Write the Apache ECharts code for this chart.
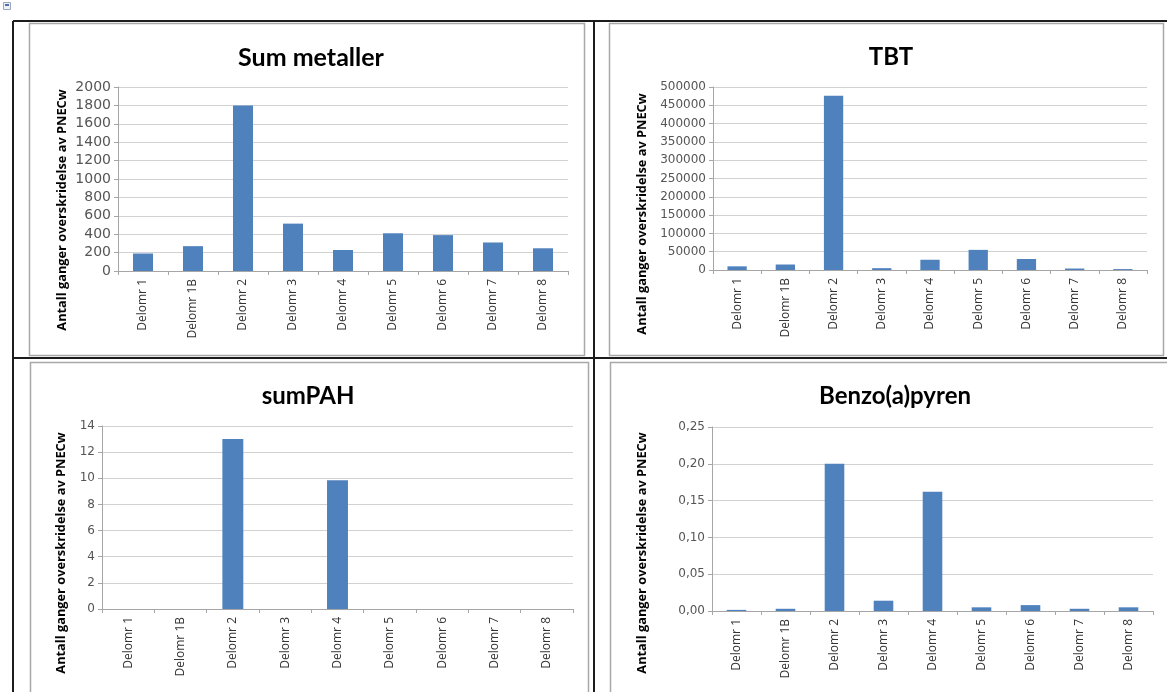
<!DOCTYPE html>
<html>
<head>
<meta charset="utf-8">
<title>Overskridelse av PNECw per delområde</title>
<script src="https://cdn.jsdelivr.net/npm/echarts@6/dist/echarts.min.js"></script>
<style>
  html, body { margin: 0; padding: 0; background: #ffffff; }
  #chart { width: 1167px; height: 692px; }
</style>
</head>
<body>
<div id="chart"></div>
<script>
// Delområder (x-axis categories shared by all four panels)
const categories = ['Delomr 1', 'Delomr 1B', 'Delomr 2', 'Delomr 3', 'Delomr 4',
                    'Delomr 5', 'Delomr 6', 'Delomr 7', 'Delomr 8'];

// Antall ganger overskridelse av PNECw, per stoffgruppe
const sumMetaller = [190, 270, 1800, 515, 228, 410, 390, 310, 247];
const tbt = [10000, 15000, 476000, 5000, 28000, 55000, 30000, 4000, 2500];
const sumPAH = [0, 0, 13, 0, 9.85, 0, 0, 0, 0];
const benzoAPyren = [0.0015, 0.003, 0.200, 0.014, 0.162, 0.005, 0.008, 0.003, 0.005];

// Panel titles and y-axis scales
const panelTitles = ['Sum metaller', 'TBT', 'sumPAH', 'Benzo(a)pyren'];
const yMax = [2000, 500000, 14, 0.25];
const yStep = [200, 50000, 2, 0.05];
const yAxisTitle = 'Antall ganger overskridelse av PNECw';

const panelData = [sumMetaller, tbt, sumPAH, benzoAPyren];

// Plot rectangles for the four panels
const grids = [
  { left: 118, top: 87, width: 450, height: 184 },
  { left: 713, top: 87, width: 434, height: 183 },
  { left: 102, top: 426, width: 471, height: 183 },
  { left: 712, top: 427, width: 441, height: 184 }
];
const titlePos = [
  { x: 306, y: 40 }, { x: 886, y: 40 }, { x: 303, y: 379 }, { x: 890, y: 379 }
];
const titleSize = [25, 24, 24, 24];
const yNamePos = [
  { x: 62, y: 210 }, { x: 642, y: 214 }, { x: 61, y: 553 }, { x: 642, y: 553 }
];
const yLabelFont = [14, 12, 12, 12];

const barColor = '#4f81bd';
const axisGray = '#a6a6a6';
const gridGray = '#d2d2d2';

const fmt = [
  v => String(v),
  v => String(v),
  v => String(v),
  v => v.toFixed(2).replace('.', ',')
];

const option = {
  backgroundColor: '#ffffff',
  animation: false,
  title: panelTitles.map((t, i) => ({
    text: t,
    left: titlePos[i].x,
    top: titlePos[i].y,
    textAlign: 'center',
    textStyle: { fontFamily: 'Lato', fontWeight: 'bold', fontSize: titleSize[i], color: '#000000' }
  })),
  grid: grids.map(g => Object.assign({ containLabel: false }, g)),
  xAxis: grids.map((g, i) => ({
    type: 'category',
    gridIndex: i,
    data: categories,
    boundaryGap: true,
    axisLine: { show: true, lineStyle: { color: axisGray, width: 1 } },
    axisTick: { show: true, alignWithLabel: false, length: 4, lineStyle: { color: axisGray } },
    axisLabel: {
      rotate: 90, margin: 8, interval: 0,
      fontFamily: 'Open Sans', fontSize: 12, color: '#333333'
    },
    splitLine: { show: false }
  })),
  yAxis: grids.map((g, i) => ({
    type: 'value',
    gridIndex: i,
    min: 0,
    max: yMax[i],
    interval: yStep[i],
    axisLine: { show: true, lineStyle: { color: axisGray, width: 1 } },
    axisTick: { show: true, length: 4, lineStyle: { color: axisGray } },
    axisLabel: {
      margin: 7, fontFamily: 'DejaVu Sans', fontSize: yLabelFont[i], color: '#555555',
      formatter: fmt[i]
    },
    splitLine: { show: true, lineStyle: { color: gridGray, width: 1 } }
  })),
  series: panelData.map((d, i) => ({
    type: 'bar',
    xAxisIndex: i,
    yAxisIndex: i,
    data: d,
    barCategoryGap: '60%',
    itemStyle: { color: barColor }
  })),
  graphic: []
};

// Rotated y-axis titles
yNamePos.forEach(p => {
  option.graphic.push({
    type: 'text',
    x: p.x, y: p.y,
    rotation: Math.PI / 2,
    style: {
      text: yAxisTitle, fontFamily: 'Open Sans', fontWeight: 'bold', fontSize: 12.8,
      fill: '#000000', align: 'center', verticalAlign: 'middle'
    }
  });
});

// Light gray frames round each chart
const frames = [
  { x: 29, y: 23, w: 555, h: 332 },
  { x: 609, y: 23, w: 554, h: 332 },
  { x: 30, y: 362, w: 558, h: 340 },
  { x: 610, y: 362, w: 570, h: 340 }
];
frames.forEach(f => {
  option.graphic.push({
    type: 'rect', silent: true,
    shape: { x: f.x + 0.5, y: f.y + 0.5, width: f.w, height: f.h },
    style: { fill: null, stroke: '#a8a8a8', lineWidth: 1.5 }
  });
});

// Dark table rules separating the panels
const rules = [
  [13, 21, 1167, 21],
  [13, 21, 13, 692],
  [594, 21, 594, 692],
  [13, 358, 1167, 358]
];
rules.forEach(r => {
  option.graphic.push({
    type: 'line', silent: true,
    shape: { x1: r[0], y1: r[1], x2: r[2], y2: r[3] },
    style: { stroke: '#1c1c1c', lineWidth: 2 }
  });
});

// Small image placeholder glyph in the corner
option.graphic.push({
  type: 'rect', silent: true,
  shape: { x: 3.5, y: 2.5, width: 7, height: 7 },
  style: { fill: '#eef2f8', stroke: '#9aa7bd', lineWidth: 1 }
});
option.graphic.push({
  type: 'rect', silent: true,
  shape: { x: 5, y: 4, width: 4, height: 2 },
  style: { fill: '#4f6fb0' }
});

const chart = echarts.init(document.getElementById('chart'), null, { renderer: 'canvas' });
chart.setOption(option);
</script>
</body>
</html>
